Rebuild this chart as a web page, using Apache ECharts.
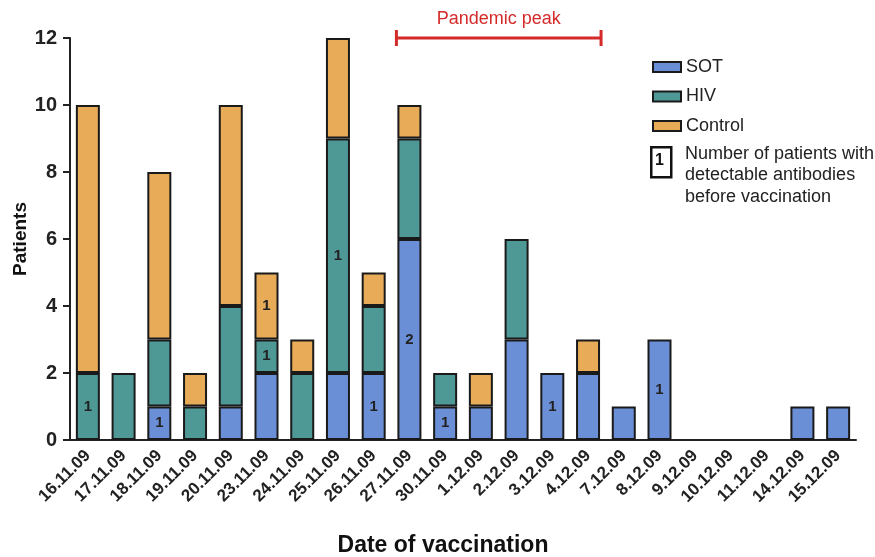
<!DOCTYPE html>
<html><head><meta charset="utf-8">
<script src="https://cdn.jsdelivr.net/npm/echarts@6/dist/echarts.min.js"></script>
<style>html,body{margin:0;padding:0;background:#fff}#c{width:875px;height:557px}</style>
</head><body><div id="c"></div>
<script>
const dates = ['16.11.09','17.11.09','18.11.09','19.11.09','20.11.09','23.11.09','24.11.09','25.11.09','26.11.09','27.11.09','30.11.09','1.12.09','2.12.09','3.12.09','4.12.09','7.12.09','8.12.09','9.12.09','10.12.09','11.12.09','14.12.09','15.12.09'];
const sot     = [0,0,1,0,1,2,0,2,2,6,1,1,3,2,2,1,3,0,0,0,1,1];
const hiv     = [2,2,2,1,3,1,2,7,2,3,1,0,3,0,0,0,0,0,0,0,0,0];
const control = [8,0,5,1,6,2,1,3,1,1,0,1,0,0,1,0,0,0,0,0,0,0];
// number of patients with detectable antibodies before vaccination
const sotAb     = [0,0,1,0,0,0,0,0,1,2,1,0,0,1,0,0,1,0,0,0,0,0];
const hivAb     = [1,0,0,0,0,1,0,1,0,0,0,0,0,0,0,0,0,0,0,0,0,0];
const controlAb = [0,0,0,0,0,1,0,0,0,0,0,0,0,0,0,0,0,0,0,0,0,0];
const peakRange = ['27.11.09','4.12.09'];
const yTicks = [0,2,4,6,8,10,12];

const FONT = 'Arial, "Liberation Sans", sans-serif';
const BAR_W = 24;

function mk(vals, abs) {
  return vals.map((v, i) => ({
    value: v === 0 ? '-' : v,
    label: { show: abs[i] > 0, formatter: String(abs[i]) }
  }));
}
function barSeries(name, vals, abs, color) {
  return {
    name, type: 'bar', stack: 'all', barWidth: BAR_W,
    data: mk(vals, abs),
    itemStyle: { color, borderColor: '#1a1a1a', borderWidth: 2 },
    label: { position: 'inside', color: '#222', fontWeight: 'bold', fontSize: 15, fontFamily: FONT },
    emphasis: { disabled: true }
  };
}

const chart = echarts.init(document.getElementById('c'), null, { renderer: 'canvas' });
chart.setOption({
  animation: false,
  textStyle: { fontFamily: FONT },
  grid: { left: 70, right: 19, top: 38, bottom: 117, containLabel: false, outerBoundsMode: 'none' },
  legend: {
    orient: 'vertical', left: 647, top: 53, itemWidth: 28, itemHeight: 10, itemGap: 11.5,
    icon: 'rect', selectedMode: false,
    textStyle: { fontSize: 18, color: '#222', fontFamily: FONT },
    data: ['SOT', 'HIV', 'Control']
  },
  xAxis: {
    type: 'category', data: dates,
    axisLine: { lineStyle: { color: '#222', width: 2 } },
    axisTick: { alignWithLabel: true, length: 7, lineStyle: { color: '#222', width: 2 } },
    axisLabel: { rotate: 45, fontSize: 17, fontWeight: 'bold', color: '#222', margin: 13, interval: 0, fontFamily: FONT },
    name: 'Date of vaccination', nameLocation: 'middle', nameGap: 94, nameMoveOverlap: false,
    nameTextStyle: { fontSize: 23, fontWeight: 'bold', color: '#111', fontFamily: FONT, padding: [0, 40, 0, 0] }
  },
  yAxis: {
    type: 'value', min: yTicks[0], max: yTicks[yTicks.length - 1], interval: 2,
    splitLine: { show: false },
    axisLine: { show: true, lineStyle: { color: '#222', width: 2 } },
    axisTick: { show: true, length: 7, lineStyle: { color: '#222', width: 2 } },
    axisLabel: { fontSize: 20, fontWeight: 'bold', color: '#222', margin: 13, fontFamily: FONT },
    name: 'Patients', nameLocation: 'middle', nameGap: 40, nameRotate: 90, nameMoveOverlap: false,
    nameTextStyle: { fontSize: 19, fontWeight: 'bold', color: '#111', fontFamily: FONT }
  },
  series: [
    barSeries('SOT', sot, sotAb, '#6b8fd6'),
    barSeries('HIV', hiv, hivAb, '#4e9896'),
    barSeries('Control', control, controlAb, '#e8ab58'),
    {
      type: 'custom', name: 'peak', clip: false, silent: true, z: 10,
      data: [[dates.indexOf(peakRange[0]), dates.indexOf(peakRange[1]), yTicks[yTicks.length - 1]]],
      renderItem: function (params, api) {
        const a = api.coord([api.value(0), api.value(2)]);
        const b = api.coord([api.value(1), api.value(2)]);
        const x1 = a[0] - BAR_W / 2 - 1, x2 = b[0] + BAR_W / 2 + 1, y = a[1];
        const st = { stroke: '#d42a2a', lineWidth: 3 };
        return { type: 'group', children: [
          { type: 'line', shape: { x1, y1: y, x2, y2: y }, style: st },
          { type: 'line', shape: { x1, y1: y - 8, x2: x1, y2: y + 8 }, style: st },
          { type: 'line', shape: { x1: x2, y1: y - 8, x2, y2: y + 8 }, style: st },
          { type: 'text', x: (x1 + x2) / 2, y: y - 19, style: { text: 'Pandemic peak', fill: '#d42a2a', fontSize: 18, fontFamily: FONT, align: 'center', verticalAlign: 'middle' } }
        ] };
      }
    }
  ],
  graphic: [
    { type: 'rect', left: 650, top: 146, shape: { width: 20, height: 30 }, style: { fill: '#fff', stroke: '#111', lineWidth: 2.5 } },
    { type: 'text', left: 655, top: 153, style: { text: '1', fontSize: 16, fontWeight: 'bold', fill: '#111', fontFamily: FONT } },
    { type: 'text', left: 685, top: 143, style: { text: 'Number of patients with\ndetectable antibodies\nbefore vaccination', fontSize: 18, lineHeight: 21.5, fill: '#222', fontFamily: FONT } }
  ]
});
</script></body></html>
